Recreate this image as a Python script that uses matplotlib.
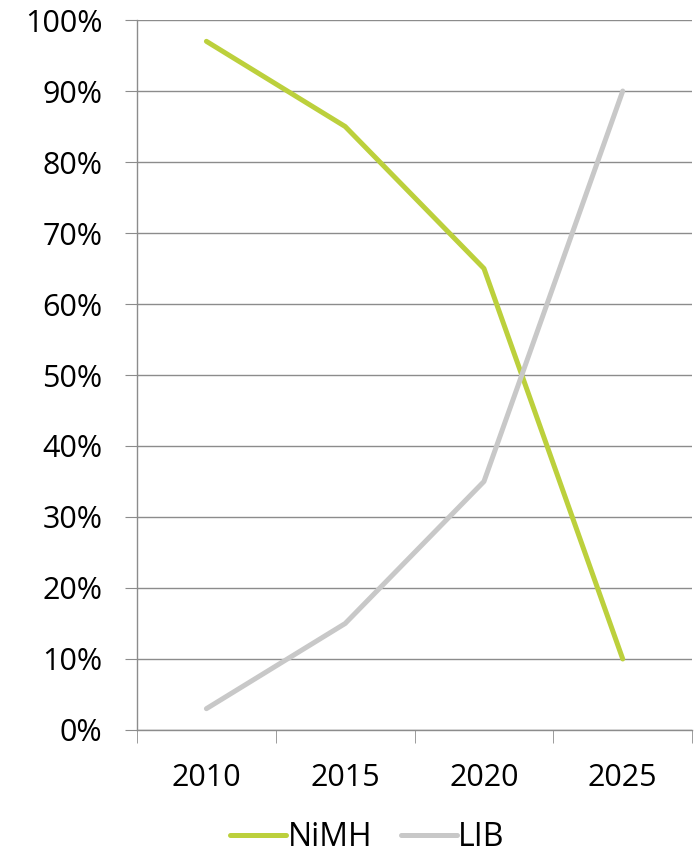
import matplotlib.pyplot as plt
from matplotlib.ticker import PercentFormatter

years = ['2010', '2015', '2020', '2025']
nimh = [97, 85, 65, 10]
lib = [3, 15, 35, 90]

plt.rcParams['font.family'] = ['Open Sans', 'DejaVu Sans']

fig = plt.figure(figsize=(6.97, 8.6), dpi=100)
ax = fig.add_axes([0.1966, 0.1512, 0.7964, 0.8255])

x = range(len(years))
ax.plot(x, nimh, color='#BCD03C', lw=3.6, solid_capstyle='round', label='NiMH')
ax.plot(x, lib, color='#C8C8C8', lw=3.6, solid_capstyle='round', label='LIB')

ax.set_xlim(-0.5, len(years) - 0.5)
ax.set_ylim(0, 100)
ax.set_yticks(range(0, 101, 10))
ax.yaxis.set_major_formatter(PercentFormatter(decimals=0))
ax.set_xticks(x)
ax.set_xticklabels(years)
ax.set_xticks([i - 0.5 for i in range(len(years) + 1)], minor=True)

ax.grid(axis='y', color='#8C8C8C', lw=1)
ax.set_axisbelow(True)
for s in ['top', 'right']:
    ax.spines[s].set_visible(False)
for s in ['left', 'bottom']:
    ax.spines[s].set_color('#8C8C8C')
    ax.spines[s].set_linewidth(1)

ax.tick_params(axis='y', length=9, color='#8C8C8C', labelsize=22, pad=16)
ax.tick_params(axis='x', which='major', length=0, labelsize=22, pad=24)
ax.tick_params(axis='x', which='minor', length=9, color='#8C8C8C')

fig.legend(loc='center', bbox_to_anchor=(0.527, 0.026), ncol=2, frameon=False,
           fontsize=23, handlelength=1.75, handletextpad=0.05, columnspacing=0.9)

fig.savefig('out.png', dpi=100)
